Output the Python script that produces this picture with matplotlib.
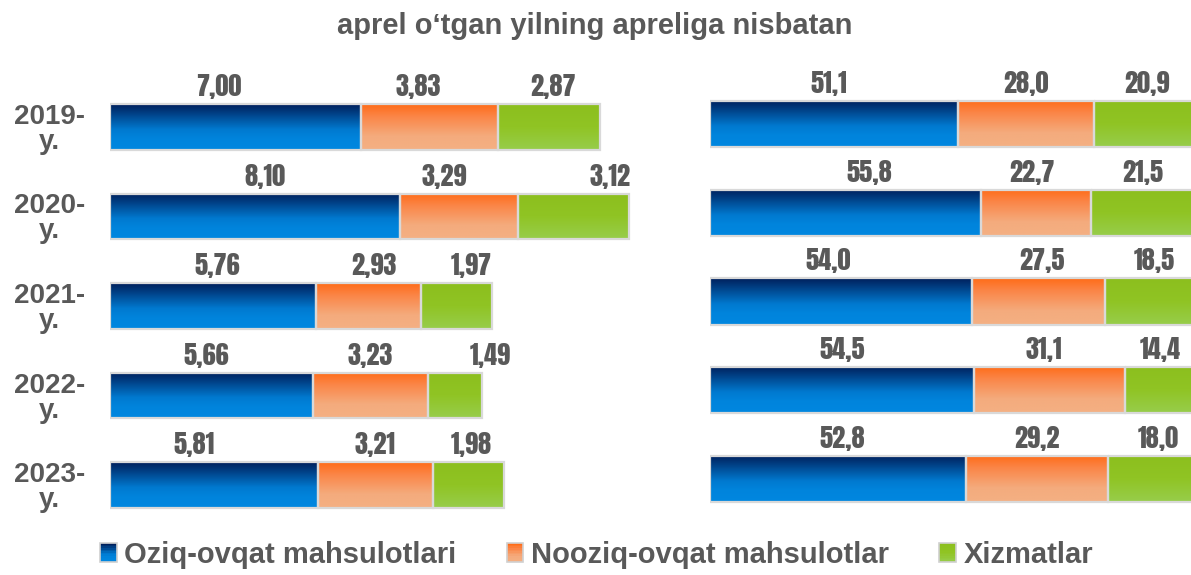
import matplotlib
matplotlib.use("Agg")
import matplotlib.pyplot as plt
import numpy as np
from matplotlib.colors import LinearSegmentedColormap
from matplotlib.patches import Rectangle
from matplotlib.legend_handler import HandlerBase

# ---------------- data ----------------
years = ["2019-\ny.", "2020-\ny.", "2021-\ny.", "2022-\ny.", "2023-\ny."]
series_names = ["Oziq-ovqat mahsulotlari", "Nooziq-ovqat mahsulotlar", "Xizmatlar"]
# absolute contributions (left panel)
food_abs = [7.00, 8.10, 5.76, 5.66, 5.81]
nonfood_abs = [3.83, 3.29, 2.93, 3.23, 3.21]
services_abs = [2.87, 3.12, 1.97, 1.49, 1.98]
# shares, % (right panel)
food_pct = [51.1, 55.8, 54.0, 54.5, 52.8]
nonfood_pct = [28.0, 22.7, 27.5, 31.1, 29.2]
services_pct = [20.9, 21.5, 18.5, 14.4, 18.0]
title = "aprel o\u2018tgan yilning apreliga nisbatan"

# ---------------- layout / style ----------------
W, H = 1191, 575
TXT = "#595959"
BOLD = ["Liberation Sans", "DejaVu Sans"]
NARROW = ["Anton", "DejaVu Sans"]

# label x-nudges in pixels (layout only)
left_nudge = [[-16, -11, 4], [10, -15, 36], [4, 5, 15], [-5, 0, 35], [-20, 0, 3]]
right_nudge = [[-5, 0, 3], [24, -4, 0], [-13, 3, 4], [0, -6, 0], [4, 0, 7]]

grads = [
    LinearSegmentedColormap.from_list("b", [(0, "#00205c"), (0.55, "#0079cf"), (0.75, "#0084dc"), (1, "#0087e0")]),
    LinearSegmentedColormap.from_list("o", [(0, "#ff6c18"), (0.25, "#fb8445"), (0.7, "#f4ab7d"), (1, "#f4b083")]),
    LinearSegmentedColormap.from_list("g", [(0, "#8cbf1e"), (0.5, "#90c424"), (1, "#97cd4b")]),
]
mid_colors = ["#0070c0", "#f79646", "#92c42a"]

fig = plt.figure(figsize=(W / 100, H / 100), dpi=100)
fig.patch.set_facecolor("white")


def px_axes(x0, x1, ytop, ybot):
    return fig.add_axes([x0 / W, 1 - ybot / H, (x1 - x0) / W, (ybot - ytop) / H])


axL = px_axes(110, 690, 82, 530)
axR = px_axes(710, 1195, 80, 523)


def draw_panel(ax, series, xmax, fmt, nudges, show_ticks, height):
    y = np.arange(len(years))
    left = np.zeros(len(years))
    grad = np.linspace(0, 1, 64).reshape(-1, 1)
    for si, vals in enumerate(series):
        vals = np.asarray(vals, dtype=float)
        bars = ax.barh(y, vals, left=left, height=height, facecolor="none",
                       edgecolor="#d9d9d9", linewidth=1.6, zorder=3)
        for bi, p in enumerate(bars.patches):
            x0, y0, w, h = p.get_x(), p.get_y(), p.get_width(), p.get_height()
            ax.imshow(grad, cmap=grads[si], extent=[x0, x0 + w, y0 + h, y0],
                      origin="upper", aspect="auto", zorder=2, interpolation="bilinear")
            ax.annotate(fmt(vals[bi]), xy=(x0 + w / 2, y0), xytext=(nudges[bi][si], 5),
                        textcoords="offset pixels", ha="center", va="bottom",
                        fontsize=19, family=NARROW, color=TXT,
                        annotation_clip=False)
        left = left + vals
    ax.set_xlim(0, xmax)
    ax.set_ylim(len(years) - 0.5, -0.5)
    for s in ax.spines.values():
        s.set_visible(False)
    ax.set_xticks([])
    if show_ticks:
        ax.set_yticks(y)
        ax.set_yticklabels(years, fontsize=20, fontweight="bold", family=BOLD,
                           color=TXT, multialignment="center", linespacing=0.95)
        ax.tick_params(axis="y", length=0, pad=18)
    else:
        ax.set_yticks([])
    ax.set_facecolor("none")


draw_panel(axL, [food_abs, nonfood_abs, services_abs], 580 / 35.8,
           lambda v: f"{v:.2f}".replace(".", ","), left_nudge, True, 0.51)
draw_panel(axR, [food_pct, nonfood_pct, services_pct], 100,
           lambda v: f"{v:.1f}".replace(".", ","), right_nudge, False, 0.52)

fig.text(595 / W, 1 - 26 / H, title, ha="center", va="center", fontsize=21,
         fontweight="bold", family=BOLD, color=TXT)


class GradHandler(HandlerBase):
    def __init__(self, cmap):
        super().__init__()
        self.cmap = cmap

    def create_artists(self, legend, orig_handle, xdescent, ydescent, width, height, fontsize, trans):
        n = 12
        s = height * 1.0
        x0 = -xdescent + (width - s * 0.85) / 2
        y0 = -ydescent + (height - s) / 2
        w = s * 0.85
        arts = []
        for i in range(n):
            arts.append(Rectangle((x0, y0 + s - (i + 1) * s / n), w, s / n,
                                  facecolor=self.cmap(i / (n - 1)), edgecolor="none", transform=trans))
        arts.append(Rectangle((x0, y0), w, s, facecolor="none", edgecolor="#d0d0d0", lw=1.2, transform=trans))
        return arts


handles = [Rectangle((0, 0), 1, 1, facecolor=c) for c in mid_colors]
leg = fig.legend(handles, series_names, loc="center", bbox_to_anchor=(597 / W, 1 - 555 / H),
                 ncol=3, frameon=False, handlelength=0.5, handleheight=0.65, handletextpad=0.3,
                 columnspacing=1.75, borderpad=0.2, prop={"family": BOLD, "weight": "bold", "size": 21},
                 handler_map={h: GradHandler(g) for h, g in zip(handles, grads)})
for t in leg.get_texts():
    t.set_color(TXT)

fig.savefig("out.png", dpi=100)
